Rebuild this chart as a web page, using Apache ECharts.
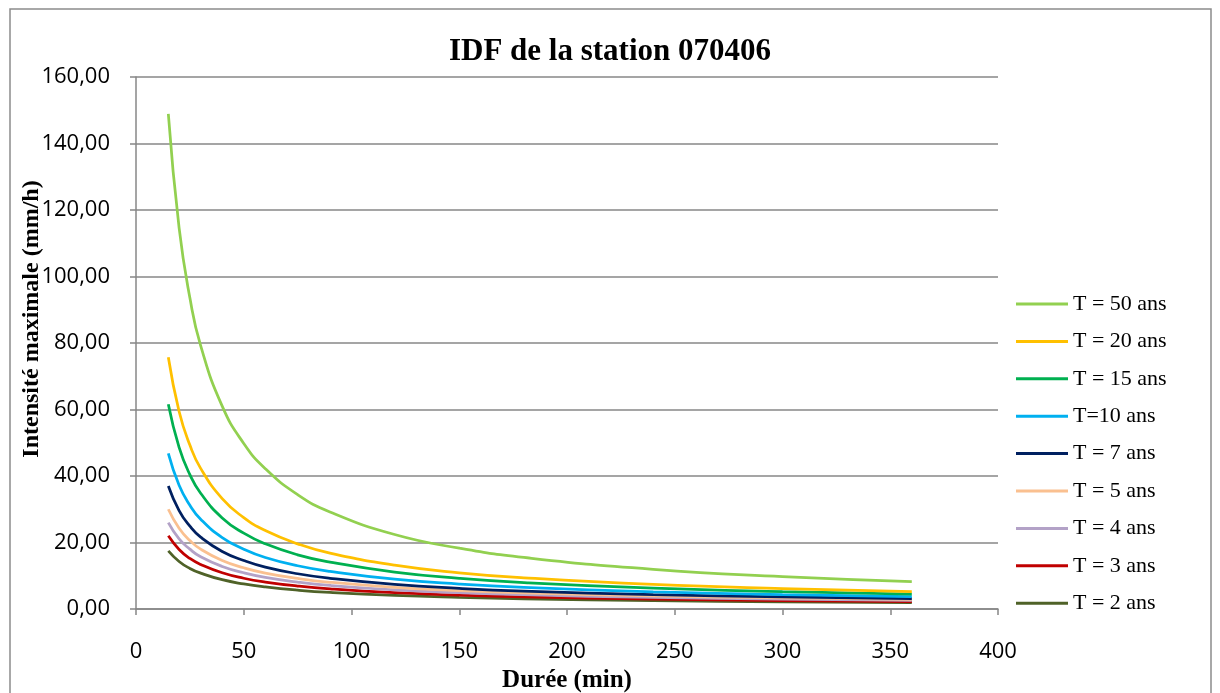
<!DOCTYPE html>
<html>
<head>
<meta charset="utf-8">
<script src="https://cdn.jsdelivr.net/npm/echarts@6/dist/echarts.min.js"></script>
<style>
html,body{margin:0;padding:0;background:#fff;}
#chart{width:1220px;height:693px;}
</style>
</head>
<body>
<div id="chart"></div>
<script>
// Durations (min)
const durations = [15, 20, 25, 30, 40, 50, 60, 75, 90, 120, 150, 180, 240, 300, 360];
// Intensities (mm/h)
const T50 = [148.9, 114.6, 93.6, 79.2, 61.0, 49.8, 42.2, 34.4, 29.2, 22.4, 18.3, 15.5, 11.9, 9.75, 8.26];
const T20 = [75.7, 59.4, 49.3, 42.3, 33.2, 27.5, 23.6, 19.6, 16.8, 13.2, 10.9, 9.39, 7.37, 6.11, 5.24];
const T15 = [61.6, 48.6, 40.4, 34.8, 27.4, 22.8, 19.6, 16.3, 14.1, 11.1, 9.22, 7.93, 6.25, 5.20, 4.48];
const T10 = [46.8, 37.2, 31.2, 27.0, 21.5, 18.0, 15.5, 13.0, 11.3, 8.96, 7.50, 6.49, 5.16, 4.32, 3.74];
const T7  = [37.0, 29.6, 24.9, 21.6, 17.3, 14.6, 12.6, 10.6, 9.23, 7.38, 6.21, 5.39, 4.31, 3.63, 3.15];
const T5  = [30.0, 24.3, 20.6, 18.0, 14.6, 12.4, 10.8, 9.19, 8.04, 6.51, 5.52, 4.83, 3.91, 3.32, 2.90];
const T4  = [26.0, 21.1, 18.0, 15.7, 12.8, 10.9, 9.52, 8.10, 7.09, 5.76, 4.90, 4.29, 3.48, 2.96, 2.60];
const T3  = [22.0, 17.9, 15.2, 13.4, 10.9, 9.25, 8.11, 6.91, 6.06, 4.92, 4.19, 3.68, 2.99, 2.55, 2.23];
const T2  = [17.5, 14.3, 12.2, 10.8, 8.81, 7.53, 6.63, 5.67, 4.99, 4.08, 3.49, 3.07, 2.51, 2.15, 1.89];

const seriesNames = ['T = 50 ans', 'T = 20 ans', 'T = 15 ans', 'T=10 ans', 'T = 7 ans', 'T = 5 ans', 'T = 4 ans', 'T = 3 ans', 'T = 2 ans'];
const seriesValues = [T50, T20, T15, T10, T7, T5, T4, T3, T2];
const colors = ['#92D050', '#FFC000', '#00B050', '#00B0F0', '#002060', '#FAC090', '#B3A2C7', '#C00000', '#4F6228'];

const chart = echarts.init(document.getElementById('chart'));
const serif = '"Liberation Serif", "Times New Roman", serif';
const sans = '"Open Sans", "Liberation Sans", sans-serif';

const series = seriesNames.map((name, i) => ({
  name: name,
  type: 'line',
  data: durations.map((d, j) => [d, seriesValues[i][j]]),
  smooth: 0.5,
  showSymbol: false,
  symbol: 'none',
  lineStyle: { color: colors[i], width: 2.75 },
  itemStyle: { color: colors[i] },
  z: 10 - i
}));

chart.setOption({
  animation: false,
  color: colors,
  title: {
    text: 'IDF de la station 070406',
    left: 'center',
    top: 31,
    textStyle: { fontFamily: serif, fontWeight: 'bold', fontSize: 31, color: '#000' }
  },
  legend: {
    orient: 'vertical',
    left: 1016,
    top: 293,
    padding: 0,
    icon: 'rect',
    itemWidth: 52,
    itemHeight: 3,
    itemGap: 15.4,
    textStyle: { fontFamily: serif, fontSize: 22, color: '#000' },
    data: seriesNames
  },
  grid: { left: 136, right: 222, top: 77, bottom: 84, containLabel: false, outerBoundsMode: 'none' },
  xAxis: {
    type: 'value',
    min: 0, max: 400, interval: 50,
    name: 'Durée (min)',
    nameLocation: 'middle',
    nameGap: 48,
    nameTextStyle: { fontFamily: serif, fontWeight: 'bold', fontSize: 25, color: '#000' },
    axisLine: { show: true, lineStyle: { color: '#878787', width: 1.5 } },
    axisTick: { show: true, length: 6, lineStyle: { color: '#878787', width: 1.5 } },
    axisLabel: { margin: 32, fontFamily: sans, fontSize: 22, color: '#000' },
    splitLine: { show: false }
  },
  yAxis: {
    type: 'value',
    min: 0, max: 160, interval: 20,
    axisLine: { show: true, lineStyle: { color: '#878787', width: 1.5 } },
    axisTick: { show: true, length: 6, lineStyle: { color: '#878787', width: 1.5 } },
    axisLabel: {
      margin: 26, fontFamily: sans, fontSize: 22, color: '#000',
      formatter: v => v.toFixed(2).replace('.', ',')
    },
    splitLine: { show: true, lineStyle: { color: '#878787', width: 1.5 } }
  },
  graphic: [
    {
      type: 'rect',
      shape: { x: 10, y: 9, width: 1201, height: 700 },
      style: { fill: 'none', stroke: '#8c8c8c', lineWidth: 1.5 },
      silent: true
    },
    {
      type: 'text',
      x: 32, y: 319,
      rotation: Math.PI / 2,
      style: {
        text: 'Intensité maximale (mm/h)',
        font: 'bold 24px ' + serif,
        fill: '#000',
        align: 'center',
        verticalAlign: 'middle'
      },
      z: 100
    }
  ],
  series: series
});
</script>
</body>
</html>
